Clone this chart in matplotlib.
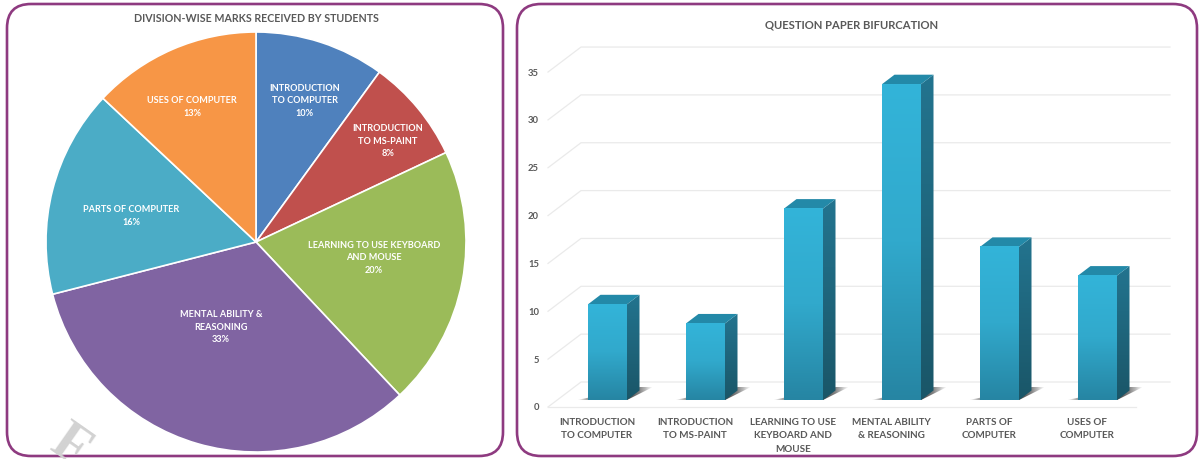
import numpy as np
import matplotlib
matplotlib.use("Agg")
import matplotlib.pyplot as plt
from matplotlib.colors import LinearSegmentedColormap
from matplotlib.patches import FancyBboxPatch, Polygon

plt.rcParams["font.family"] = ["Lato", "DejaVu Sans"]

# data
pie_labels = ["INTRODUCTION\nTO COMPUTER", "INTRODUCTION\nTO MS-PAINT",
              "LEARNING TO USE KEYBOARD\nAND MOUSE", "MENTAL ABILITY &\nREASONING",
              "PARTS OF COMPUTER", "USES OF COMPUTER"]
bar_labels = ["INTRODUCTION\nTO COMPUTER", "INTRODUCTION\nTO MS-PAINT",
              "LEARNING TO USE\nKEYBOARD AND\nMOUSE", "MENTAL ABILITY\n& REASONING",
              "PARTS OF\nCOMPUTER", "USES OF\nCOMPUTER"]
marks = [10, 8, 20, 33, 16, 13]
y_ticks = [0, 5, 10, 15, 20, 25, 30, 35]
pie_colors = ["#4F81BD", "#C0504D", "#9BBB59", "#8064A2", "#4BACC6", "#F79646"]

W, H = 1200, 460
TXT = "#595959"
fig = plt.figure(figsize=(W / 100, H / 100), dpi=100)

# page layer, in pixels
bg = fig.add_axes([0, 0, 1, 1])
bg.set_xlim(0, W)
bg.set_ylim(H, 0)
bg.axis("off")
for x0, x1 in [(7, 503), (517, 1197)]:
    bg.add_patch(FancyBboxPatch((x0 + 24, 5 + 24), x1 - x0 - 48, 452 - 48,
                                boxstyle="round,pad=24,rounding_size=24",
                                fc="white", ec="#8E3A80", lw=1.9))
bg.text(70, 447, "F", family="Liberation Serif", weight="bold", fontsize=40,
        color="#D2D2D2", rotation=-35, ha="center", va="center", clip_on=True)
bg.text(256, 18, "DIVISION-WISE MARKS RECEIVED BY STUDENTS", ha="center", va="center",
        fontsize=7.7, weight="bold", color=TXT)
bg.text(852, 25, "QUESTION PAPER BIFURCATION", ha="center", va="center",
        fontsize=8.1, weight="bold", color=TXT)

# pie
cx, cy, r = 256, 243, 210
ax1 = fig.add_axes([(cx - r) / W, (H - cy - r) / H, 2 * r / W, 2 * r / H])
ax1.pie(marks, colors=pie_colors, startangle=90, counterclock=False, radius=1,
        wedgeprops={"edgecolor": "white", "linewidth": 1.2})
ax1.set_xlim(-1, 1)
ax1.set_ylim(-1, 1)
label_px = [(305, 101), (388, 141), (374, 258), (221, 327), (131, 216), (192, 107)]
for name, v, (px, py) in zip(pie_labels, marks, label_px):
    ax1.text((px - cx) / r, (cy - py) / r, f"{name}\n{v}%", color="white", ha="center",
             va="center", fontsize=6.6, weight="bold", linespacing=1.55)

# bars, pseudo 3d
ax2 = fig.add_axes([517 / W, 2 / H, 680 / W, 452 / H])
ux, uy = 98.0, 9.57
ax2.set_xlim((517 - 607.5) / ux, (1197 - 607.5) / ux)
ax2.set_ylim((400 - 457) / uy, (400 - 5) / uy)
ax2.axis("off")
ax2.patch.set_alpha(0)

front_y = -7 / uy
back_y = 18 / uy
left_front, right_front = (548 - 607.5) / ux, (1136 - 607.5) / ux
left_back, right_back = (581 - 607.5) / ux, (1170 - 607.5) / ux
grid = "#EAEAEA"
for v in y_ticks:
    ax2.plot([left_front, left_back, right_back], [v + front_y, v + back_y, v + back_y],
             color=grid, lw=0.9, zorder=1)
    ax2.text(left_front - 9 / ux, v + front_y, str(v), ha="right", va="center",
             fontsize=6.8, weight="bold", color=TXT)
ax2.plot([left_front, right_front], [front_y, front_y], color=grid, lw=0.9, zorder=1)

hw = 19.5 / ux
dx, dy = 12.5 / ux, 9.5 / uy
cmap_front = LinearSegmentedColormap.from_list("f", ["#33B4D9", "#31A9CC", "#2685A3"])
cmap_side = LinearSegmentedColormap.from_list("s", ["#23748F", "#1A5668"])
ramp = np.linspace(0, 1, 128).reshape(-1, 1)
fade = np.array([0, 0.6, 0.85, 0.95, 0.95, 0.6, 0])
shadow = np.zeros((1, 64, 4))
shadow[0, :, :3] = 0.22
shadow[0, :, 3] = np.interp(np.linspace(0, 1, 64), np.linspace(0, 1, len(fade)), fade)

for i, v in enumerate(marks):
    l, rt = i - hw, i + hw
    # floor shadow
    sx0, sx1 = l - 11 / ux, rt + 26 / ux
    im = ax2.imshow(shadow, extent=[sx0, sx1, 0, 13 / uy], aspect="auto", zorder=2)
    im.set_clip_path(Polygon([(sx0, 0), (rt, 0), (sx1, 13 / uy), (rt + 13 / ux, 13 / uy)],
                             transform=ax2.transData))
    # front
    ax2.imshow(ramp, cmap=cmap_front, extent=[l, rt, 0, v], aspect="auto", zorder=4)
    # side
    im = ax2.imshow(ramp, cmap=cmap_side, extent=[rt, rt + dx, 0, v + dy], aspect="auto", zorder=3)
    im.set_clip_path(Polygon([(rt, 0), (rt + dx, dy), (rt + dx, v + dy), (rt, v)],
                             transform=ax2.transData))
    # top
    ax2.add_patch(Polygon([(l, v), (rt, v), (rt + dx, v + dy), (l + dx, v + dy)],
                          fc="#2389A8", ec="none", zorder=3))
    ax2.text(i - 10.5 / ux, -17 / uy, bar_labels[i], ha="center", va="top", fontsize=7.15,
             color=TXT, linespacing=1.62, weight="bold")

ax2.set_xlim((517 - 607.5) / ux, (1197 - 607.5) / ux)
ax2.set_ylim((400 - 457) / uy, (400 - 5) / uy)

fig.savefig("out.png", dpi=100)
